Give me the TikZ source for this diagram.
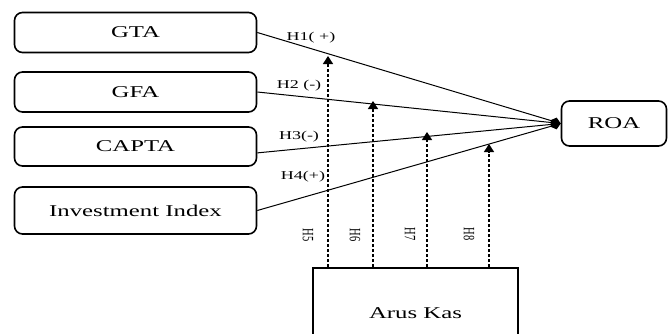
\documentclass[tikz,border=0pt]{standalone}
\usepackage{fontspec}
\setmainfont{Liberation Serif}[FakeStretch=1.5]
\newfontfamily\plainserif{Liberation Serif}
\usepackage{tikz}
\usetikzlibrary{arrows.meta}

\tikzset{
	varbox/.style={draw,line width=1.6pt,rounded corners=8pt,minimum width=242pt,minimum height=40pt,font=\fontsize{16.5}{18}\selectfont},
	hyplabel/.style={font=\fontsize{12}{14}\selectfont,inner sep=0pt},
	rotlabel/.style={rotate=-90,inner sep=0pt,font=\plainserif\fontsize{10.5}{12}\selectfont},
	dasharrow/.style={line width=1.4pt,dash pattern=on 3pt off 2pt,-{Triangle[width=10pt,length=8pt]}},
	solidlink/.style={line width=1pt,-{Diamond[width=9pt,length=11pt]}}
}

\begin{document}
\begin{tikzpicture}[x=1pt,y=-1pt]
	\useasboundingbox (0,0) rectangle (672,333);

	\draw (135.5,32.5) node (gta) [varbox] {GTA};
	\draw (135.5,92) node (gfa) [varbox] {GFA};
	\draw (135.5,146.5) node (capta) [varbox,minimum height=39pt] {CAPTA};
	\draw (135.5,210.5) node (inv) [varbox,minimum height=47pt] {Investment Index};

	\draw (614,123.5) node (roa) [varbox,minimum width=105pt,minimum height=45pt] {ROA};
	\draw (415.5,313) node (arus) [draw,line width=2pt,minimum width=205pt,minimum height=90pt,font=\fontsize{16.5}{18}\selectfont] {Arus Kas};

	% hypothesis labels
	\node (h1) [hyplabel] at (311,38) {H1( +)};
	\node (h2) [hyplabel] at (299,86) {H2 (-)};
	\node (h3) [hyplabel] at (299,137) {H3(-)};
	\node (h4) [hyplabel] at (303,177) {H4(+)};
	\node (h5) [rotlabel] at (308,235) {\scalebox{1}[1.5]{H5}};
	\node (h6) [rotlabel] at (355,235) {\scalebox{1}[1.5]{H6}};
	\node (h7) [rotlabel] at (410,234) {\scalebox{1}[1.5]{H7}};
	\node (h8) [rotlabel] at (469,234) {\scalebox{1}[1.5]{H8}};

	% moderation arrow ends
	\coordinate (t5) at (328,56);
	\coordinate (t6) at (373,101);
	\coordinate (t7) at (427,132);
	\coordinate (t8) at (489,144);

	\draw[solidlink] (gta.east) -- (roa.west);
	\draw[solidlink] (gfa.east) -- (roa.west);
	\draw[solidlink] (capta.-3) -- (roa.west);
	\draw[solidlink] (inv.east) -- (roa.west);

	\draw[dasharrow] (arus.north -| t5) -- (t5);
	\draw[dasharrow] (arus.north -| t6) -- (t6);
	\draw[dasharrow] (arus.north -| t7) -- (t7);
	\draw[dasharrow] (arus.north -| t8) -- (t8);
\end{tikzpicture}
\end{document}
